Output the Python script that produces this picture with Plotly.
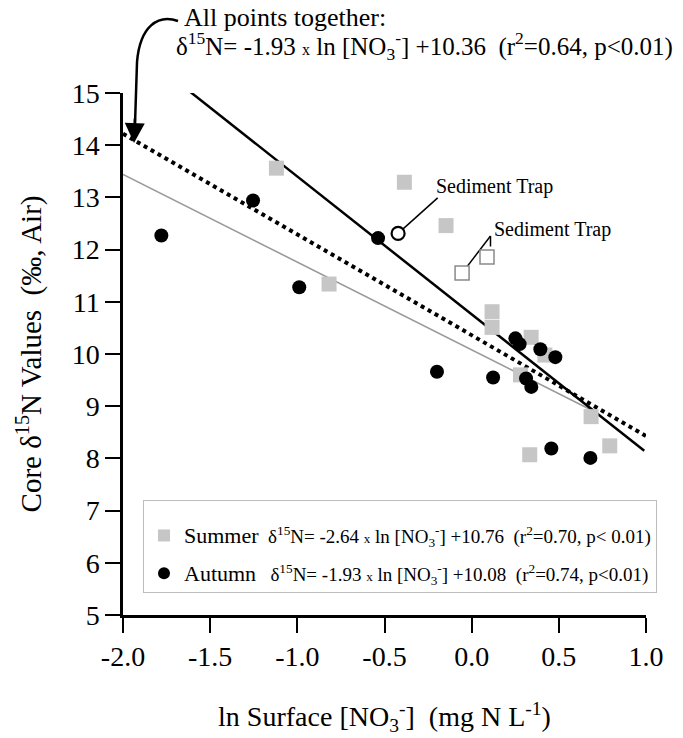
import plotly.graph_objects as go

# ---------------- data ----------------
summer_x = [-1.12, -0.386, -0.147, -0.818, 0.117, 0.117, 0.341, 0.42, 0.28, 0.685, 0.792, 0.333]
summer_y = [13.56, 13.29, 12.46, 11.34, 10.81, 10.51, 10.32, 9.98, 9.60, 8.80, 8.24, 8.07]

autumn_x = [-1.254, -1.78, -0.537, -0.989, 0.251, 0.275, 0.394, 0.48, -0.199, 0.123, 0.312, 0.342, 0.457, 0.681]
autumn_y = [12.94, 12.27, 12.22, 11.28, 10.30, 10.19, 10.09, 9.94, 9.66, 9.55, 9.53, 9.37, 8.19, 8.01]

trap_autumn_x = [-0.422]
trap_autumn_y = [12.31]
trap_summer_x = [-0.055, 0.088]
trap_summer_y = [11.55, 11.86]

# regression lines: (slope, intercept, x_start, x_end)
fit_all = (-1.93, 10.36, -2.0, 1.0)
fit_summer = (-2.64, 10.76, -1.77, 0.99)
fit_autumn = (-1.68, 10.08, -2.0, 0.68)

x_tickvals = [-2.0, -1.5, -1.0, -0.5, 0.0, 0.5, 1.0]
x_ticktext = ["-2.0", "-1.5", "-1.0", "-0.5", "0.0", "0.5", "1.0"]
y_tickvals = [5, 6, 7, 8, 9, 10, 11, 12, 13, 14, 15]

FONT = "Times New Roman, Tinos, Liberation Serif, DejaVu Serif, serif"

W, H = 683, 738
ML, MR, MT, MB = 123, 37, 93, 123
PW, PH = W - ML - MR, H - MT - MB


def pxx(p):
    return (p - ML) / PW


def pxy(p):
    return (H - MB - p) / PH


def line_xy(fit):
    m, b, x0, x1 = fit
    return [x0, x1], [m * x0 + b, m * x1 + b]


fig = go.Figure()

lx, ly = line_xy(fit_autumn)
fig.add_trace(go.Scatter(x=lx, y=ly, mode="lines", line=dict(color="#9a9a9a", width=1.6),
                         showlegend=False, hoverinfo="skip"))
lx, ly = line_xy(fit_summer)
fig.add_trace(go.Scatter(x=lx, y=ly, mode="lines", line=dict(color="black", width=2.5),
                         showlegend=False, hoverinfo="skip"))
lx, ly = line_xy(fit_all)
fig.add_trace(go.Scatter(x=lx, y=ly, mode="lines", line=dict(color="black", width=4, dash="4px,4px"),
                         showlegend=False, hoverinfo="skip"))

eq_s = ("<span style='font-size:22px'>Summer</span>  δ<sup>15</sup>N= -2.64 "
        "<span style='font-size:13px'>x</span> ln [NO<sub>3</sub><sup>-</sup>] +10.76  "
        "(r<sup>2</sup>=0.70, p< 0.01)")
eq_a = ("<span style='font-size:22px'>Autumn</span>   δ<sup>15</sup>N= -1.93 "
        "<span style='font-size:13px'>x</span> ln [NO<sub>3</sub><sup>-</sup>] +10.08  "
        "(r<sup>2</sup>=0.74, p<0.01)")

fig.add_trace(go.Scatter(x=summer_x, y=summer_y, mode="markers", name=eq_s, legendgroup="s",
                         marker=dict(symbol="square", size=15, color="#c6c6c6")))
fig.add_trace(go.Scatter(x=autumn_x, y=autumn_y, mode="markers", name=eq_a, legendgroup="a",
                         marker=dict(symbol="circle", size=14, color="black")))
fig.add_trace(go.Scatter(x=trap_summer_x, y=trap_summer_y, mode="markers", showlegend=False,
                         marker=dict(symbol="square", size=14, color="white",
                                     line=dict(color="#8a8a8a", width=1.5))))
fig.add_trace(go.Scatter(x=trap_autumn_x, y=trap_autumn_y, mode="markers", showlegend=False,
                         marker=dict(symbol="circle", size=13, color="white",
                                     line=dict(color="black", width=2.2))))

# leader lines to "Sediment Trap" labels
lab1 = (-0.195, 12.99)
lab2 = (0.108, 12.26)
fig.add_shape(type="line", x0=trap_autumn_x[0], y0=trap_autumn_y[0], x1=lab1[0], y1=lab1[1],
              line=dict(color="black", width=1.5), layer="below")
fig.add_shape(type="line", x0=trap_summer_x[0], y0=trap_summer_y[0], x1=lab2[0], y1=lab2[1],
              line=dict(color="black", width=1.5), layer="below")
fig.add_shape(type="line", x0=lab2[0], y0=lab2[1], x1=lab2[0], y1=12.06,
              line=dict(color="black", width=1.5), layer="below")
fig.add_annotation(x=-0.214, y=13.2, text="Sediment Trap", showarrow=False, xanchor="left",
                   yanchor="middle", font=dict(family=FONT, size=20, color="black"))
fig.add_annotation(x=0.117, y=12.38, text="Sediment Trap", showarrow=False, xanchor="left",
                   yanchor="middle", font=dict(family=FONT, size=20, color="black"))

# top annotation
fig.add_annotation(xref="paper", yref="paper", x=pxx(182), y=pxy(17), text="All points together:",
                   showarrow=False, xanchor="left", yanchor="middle",
                   font=dict(family=FONT, size=26, color="black"))
fig.add_annotation(xref="paper", yref="paper", x=pxx(174), y=pxy(46),
                   text=("δ<sup>15</sup>N= -1.93 <span style='font-size:16px'>x</span> ln "
                         "[NO<sub>3</sub><sup>-</sup>] +10.36  (r<sup>2</sup>=0.64, p<0.01)"),
                   showarrow=False, xanchor="left", yanchor="middle",
                   font=dict(family=FONT, size=25, color="black"))

# curved arrow
pts = [(178, 21), (158, 14), (140, 26), (137, 62), (135, 125)]
path = "M {:.4f},{:.4f} C {:.4f},{:.4f} {:.4f},{:.4f} {:.4f},{:.4f} L {:.4f},{:.4f}".format(
    pxx(pts[0][0]), pxy(pts[0][1]), pxx(pts[1][0]), pxy(pts[1][1]),
    pxx(pts[2][0]), pxy(pts[2][1]), pxx(pts[3][0]), pxy(pts[3][1]),
    pxx(pts[4][0]), pxy(pts[4][1]))
fig.add_shape(type="path", xref="paper", yref="paper", path=path,
              line=dict(color="black", width=2.5))
fig.add_annotation(xref="paper", yref="paper", x=pxx(134), y=pxy(143), ax=1, ay=-26,
                   text="", showarrow=True, arrowhead=2, arrowsize=1.6, arrowwidth=2.5,
                   arrowcolor="black")

fig.update_layout(
    width=W, height=H,
    margin=dict(l=ML, r=MR, t=MT, b=MB, autoexpand=False),
    paper_bgcolor="white", plot_bgcolor="white",
    font=dict(family=FONT, color="black"),
    showlegend=True,
    legend=dict(x=pxx(143), y=pxy(500), xanchor="left", yanchor="top",
                bgcolor="rgba(0,0,0,0)", bordercolor="#bdbdbd", borderwidth=1,
                font=dict(family=FONT, size=19, color="black"),
                title=dict(text=" ", font=dict(family=FONT, size=12)),
                tracegroupgap=10, itemsizing="constant"),
    xaxis=dict(range=[-2, 1], tickvals=x_tickvals, ticktext=x_ticktext, automargin=False,
               showgrid=False, zeroline=False, showline=True, linecolor="black", linewidth=2.5,
               ticks="outside", ticklen=15, tickwidth=2, tickcolor="black",
               tickfont=dict(family=FONT, size=28),
               title=dict(text="ln Surface [NO<sub>3</sub><sup>-</sup>]  (mg N L<sup>-1</sup>)",
                          font=dict(family=FONT, size=28), standoff=36)),
    yaxis=dict(range=[5, 15], tickvals=y_tickvals, automargin=False,
               showgrid=False, zeroline=False, showline=True, linecolor="black", linewidth=2.5,
               ticks="outside", ticklen=15, tickwidth=2, tickcolor="black",
               tickfont=dict(family=FONT, size=28),
               title=dict(text="Core δ<sup>15</sup>N Values  (‰, Air)",
                          font=dict(family=FONT, size=29), standoff=22)),
)

fig.write_html("out.html")
